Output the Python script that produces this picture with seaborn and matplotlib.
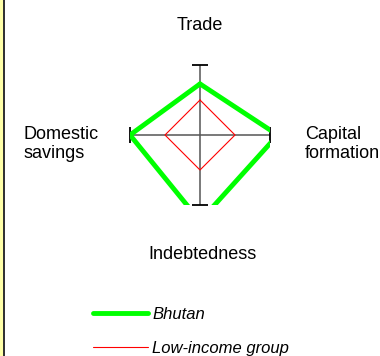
import numpy as np
import pandas as pd
import matplotlib
matplotlib.use("Agg")
import matplotlib.pyplot as plt
from matplotlib.patches import Rectangle
import seaborn as sns

# ---- data ----
categories = ["Trade", "Capital\nformation", "Indebtedness", "Domestic\nsavings"]
angles_deg = [90, 0, -90, 180]
bhutan = [0.73, 1.11, 1.23, 1.0]
low_income = [0.5, 0.5, 0.5, 0.5]
series_names = ["Bhutan", "Low-income group"]

sns.set_style("white")
plt.rcParams["font.family"] = ["Liberation Sans", "DejaVu Sans"]
plt.rcParams["text.color"] = "black"

def to_xy(vals):
    th = np.deg2rad(angles_deg + [angles_deg[0]])
    v = np.array(vals + [vals[0]], dtype=float)
    return v * np.cos(th), v * np.sin(th)

rows = []
for name, vals in zip(series_names, [bhutan, low_income]):
    xs, ys = to_xy(vals)
    for i, (x, y) in enumerate(zip(xs, ys)):
        rows.append({"series": name, "order": i, "x": x, "y": y})
df = pd.DataFrame(rows)

W, H = 380, 356
fig = plt.figure(figsize=(W / 100, H / 100), dpi=100)
fig.patch.set_facecolor("white")

# center (200,135) px, radius 70 px
cx, cy, r = 200, 135, 70
ax = fig.add_axes([(cx - r) / W, (H - cy - r) / H, 2 * r / W, 2 * r / H])
ax.set_xlim(-1, 1)
ax.set_ylim(-1, 1)
ax.axis("off")

# axes cross
ax.plot([-1, 1], [0, 0], color="#555555", lw=1.1, zorder=1)
ax.plot([0, 0], [-1, 1], color="#555555", lw=1.1, zorder=1)
ax.plot([0, 0], [1, -1], ls="none", marker="_", ms=11, mew=1.3, color="black", clip_on=False, zorder=2)
ax.plot([1, -1], [0, 0], ls="none", marker="|", ms=11, mew=1.3, color="black", clip_on=False, zorder=2)

styles = {"Bhutan": dict(color="#00FF00", lw=3.5),
          "Low-income group": dict(color="#FF0000", lw=0.8)}
for name in series_names:
    sub = df[df["series"] == name]
    sns.lineplot(data=sub, x="x", y="y", sort=False, estimator=None, ax=ax,
                 label=name, zorder=3, **styles[name])
for ln in ax.get_lines()[-2:]:
    ln.set_solid_joinstyle("miter")
ax.set_xlim(-1, 1)
ax.set_ylim(-1, 1)

# category labels (va='baseline' aligns the last line for multi-line text)
lab_kw = dict(fontsize=13, color="black", clip_on=False, linespacing=1.13)
ax.text(0, 1.5, categories[0], ha="center", va="baseline", **lab_kw)
ax.text(1.5, -0.324, categories[1], ha="left", va="baseline", **lab_kw)
ax.text(0.03, -1.776, categories[2], ha="center", va="baseline", **lab_kw)
ax.text(-2.524, -0.324, categories[3], ha="left", va="baseline", **lab_kw)

handles, labels = ax.get_legend_handles_labels()
leg = ax.legend(handles, labels, loc="upper left", bbox_to_anchor=(93 / W, (H - 307) / H),
                bbox_transform=fig.transFigure, frameon=False, borderpad=0, borderaxespad=0,
                handlelength=3.3, handletextpad=0.25, labelspacing=1.14,
                prop={"style": "italic", "size": 12})
for lh in leg.get_lines():
    lh.set_solid_capstyle("round")
for t in leg.get_texts():
    t.set_color("black")

# left border strip
fig.patches.append(Rectangle((0, 0), 3 / W, 1, transform=fig.transFigure, facecolor="#FFFFA8", edgecolor="none"))
fig.patches.append(Rectangle((3 / W, 0), 2 / W, 1, transform=fig.transFigure, facecolor="#333333", edgecolor="none"))

fig.savefig("out.png", dpi=100)
